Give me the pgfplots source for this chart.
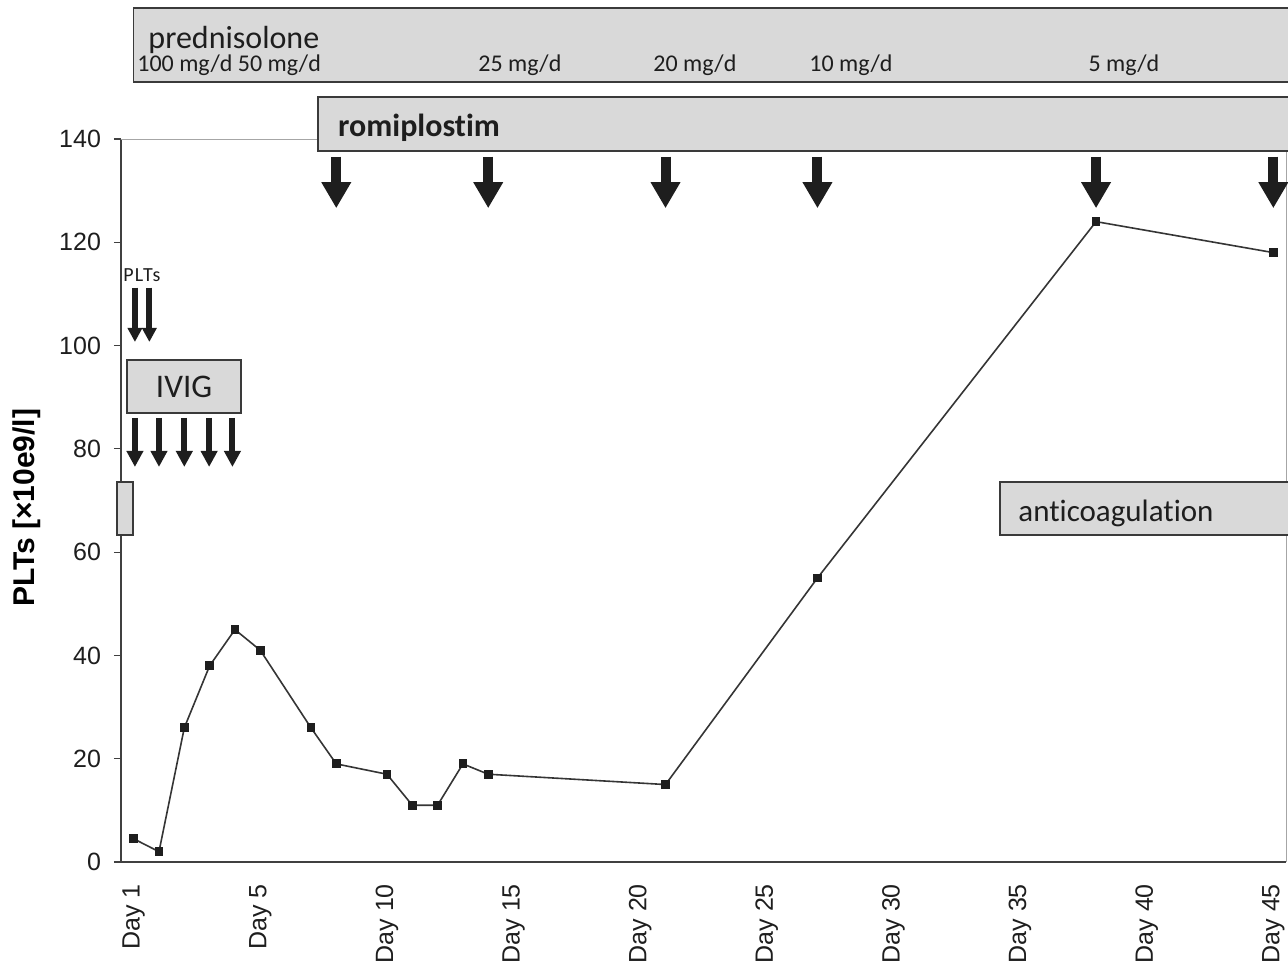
\documentclass[border=0pt]{standalone}
\usepackage{pgfplots}
\pgfplotsset{compat=1.18}
\usetikzlibrary{arrows.meta}
\usepackage{fontspec}
\setmainfont{Liberation Sans}
\newfontfamily\calibri[Ligatures=NoCommon]{Carlito}
\definecolor{boxfill}{HTML}{D9D9D9}
\definecolor{boxdraw}{HTML}{3A3A3A}
\definecolor{ink}{HTML}{1E1E1E}

\pgfplotstableread{
p v
0 4.5
1 2
2 26
3 38
4 45
5 41
7 26
8 19
10 17
11 11
12 11
13 19
14 17
21 15
27 55
38 124
45 118
}\pltdata

\begin{document}
\begin{tikzpicture}
\useasboundingbox (-60.5pt,-54.5pt) rectangle (583.5pt,431pt);
\begin{axis}[
  scale only axis, width=582.5pt, height=361.5pt,
  xmin=-0.5, xmax=45.5, ymin=0, ymax=140,
  axis lines=left,
  axis line style={-, draw=ink!85, line width=0.8pt},
  clip=false,
  tick align=outside,
  major tick length=3.5pt,
  minor tick length=2pt,
  tick style={draw=ink!85, line width=0.6pt},
  xtick=\empty,
  minor xtick={-0.5,0.5,...,45.5},
  extra x ticks={0,5,10,15,20,25,30,35,40,45},
  extra x tick labels={Day 1,Day 5,Day 10,Day 15,Day 20,Day 25,Day 30,Day 35,Day 40,Day 45},
  extra x tick style={major tick length=0pt},
  xticklabel style={yshift=-7.5pt, rotate=90, anchor=east, font=\fontsize{12.5}{14}\selectfont, text=ink},
  ytick={0,20,...,140},
  yticklabel style={xshift=-3pt, font=\fontsize{12.5}{14}\selectfont, text=ink},
  /pgf/number format/assume math mode=true,
  every axis y label/.style={at={(axis description cs:-0.0807,0.49)}, rotate=90, anchor=center},
  ylabel={\bfseries\fontsize{15}{17}\selectfont PLTs [×10e9/l]},
]
\draw[gray!70, line width=0.5pt] (rel axis cs:0,1) -- (rel axis cs:1,1) -- (rel axis cs:1,0);

\addplot[draw=ink!90, line width=0.8pt, mark=square*, mark size=1.8pt, mark options={fill=ink, draw=ink}] table[x=p, y=v] {\pltdata};

% prednisolone box
\draw[boxdraw, fill=boxfill, line width=0.8pt] (axis cs:0,151) rectangle (axis cs:47,165.4);
\node[anchor=base west, inner sep=0pt, font=\calibri\fontsize{16}{18}\selectfont, text=ink] at (axis cs:0.57,157.6) {prednisolone};
\node[anchor=base west, inner sep=0pt, font=\calibri\fontsize{12}{14}\selectfont, text=ink] at (axis cs:0.13,153.1) {100 mg/d 50 mg/d};
\node[anchor=base, inner sep=0pt, font=\calibri\fontsize{12}{14}\selectfont, text=ink] at (axis cs:15.25,153.1) {25 mg/d};
\node[anchor=base, inner sep=0pt, font=\calibri\fontsize{12}{14}\selectfont, text=ink] at (axis cs:22.16,153.1) {20 mg/d};
\node[anchor=base, inner sep=0pt, font=\calibri\fontsize{12}{14}\selectfont, text=ink] at (axis cs:28.32,153.1) {10 mg/d};
\node[anchor=base, inner sep=0pt, font=\calibri\fontsize{12}{14}\selectfont, text=ink] at (axis cs:39.1,153.1) {5 mg/d};

% romiplostim box
\draw[boxdraw, fill=boxfill, line width=0.8pt] (axis cs:7.28,137.7) rectangle (axis cs:47,148.1);
\node[anchor=base west, inner sep=0pt, font=\calibri\bfseries\fontsize{16}{18}\selectfont, text=ink] at (axis cs:8.06,140.4) {romiplostim};
\draw[ink, line width=5pt, -{Triangle[width=14pt,length=13pt]}] (axis cs:8,136.6) -- (axis cs:8,126.6);
\draw[ink, line width=5pt, -{Triangle[width=14pt,length=13pt]}] (axis cs:14,136.6) -- (axis cs:14,126.6);
\draw[ink, line width=5pt, -{Triangle[width=14pt,length=13pt]}] (axis cs:21,136.6) -- (axis cs:21,126.6);
\draw[ink, line width=5pt, -{Triangle[width=14pt,length=13pt]}] (axis cs:27,136.6) -- (axis cs:27,126.6);
\draw[ink, line width=5pt, -{Triangle[width=14pt,length=13pt]}] (axis cs:38,136.6) -- (axis cs:38,126.6);
\draw[ink, line width=5pt, -{Triangle[width=14pt,length=13pt]}] (axis cs:45,136.6) -- (axis cs:45,126.6);

% PLTs transfusions
\node[anchor=base west, inner sep=0pt, font=\calibri\fontsize{10}{11}\selectfont\addfontfeature{LetterSpace=6}, text=ink] at (axis cs:-0.42,112.5) {PLTs};
\draw[ink, line width=3pt, -{Triangle[width=7pt,length=7pt]}] (axis cs:0.05,111.2) -- (axis cs:0.05,100.7);
\draw[ink, line width=3pt, -{Triangle[width=7pt,length=7pt]}] (axis cs:0.62,111.2) -- (axis cs:0.62,100.7);

% IVIG
\draw[boxdraw, fill=boxfill, line width=0.8pt] (axis cs:-0.26,86.9) rectangle (axis cs:4.24,97.2);
\node[anchor=base, inner sep=0pt, font=\calibri\fontsize{16.5}{18}\selectfont, text=ink] at (axis cs:1.99,89.9) {IVIG};
\draw[ink, line width=3pt, -{Triangle[width=8pt,length=8pt]}] (axis cs:0.05,86.0) -- (axis cs:0.05,76.5);
\draw[ink, line width=3pt, -{Triangle[width=8pt,length=8pt]}] (axis cs:1.0,86.0) -- (axis cs:1.0,76.5);
\draw[ink, line width=3pt, -{Triangle[width=8pt,length=8pt]}] (axis cs:2.0,86.0) -- (axis cs:2.0,76.5);
\draw[ink, line width=3pt, -{Triangle[width=8pt,length=8pt]}] (axis cs:2.98,86.0) -- (axis cs:2.98,76.5);
\draw[ink, line width=3pt, -{Triangle[width=8pt,length=8pt]}] (axis cs:3.9,86.0) -- (axis cs:3.9,76.5);

% small box left
\draw[boxdraw, fill=boxfill, line width=0.8pt] (axis cs:-0.66,63.3) rectangle (axis cs:-0.02,73.6);

% anticoagulation
\draw[boxdraw, fill=boxfill, line width=0.8pt] (axis cs:34.2,63.3) rectangle (axis cs:47,73.6);
\node[anchor=base west, inner sep=0pt, font=\calibri\fontsize{15.5}{18}\selectfont, text=ink] at (axis cs:34.92,66.0) {anticoagulation};
\end{axis}
\end{tikzpicture}
\end{document}
